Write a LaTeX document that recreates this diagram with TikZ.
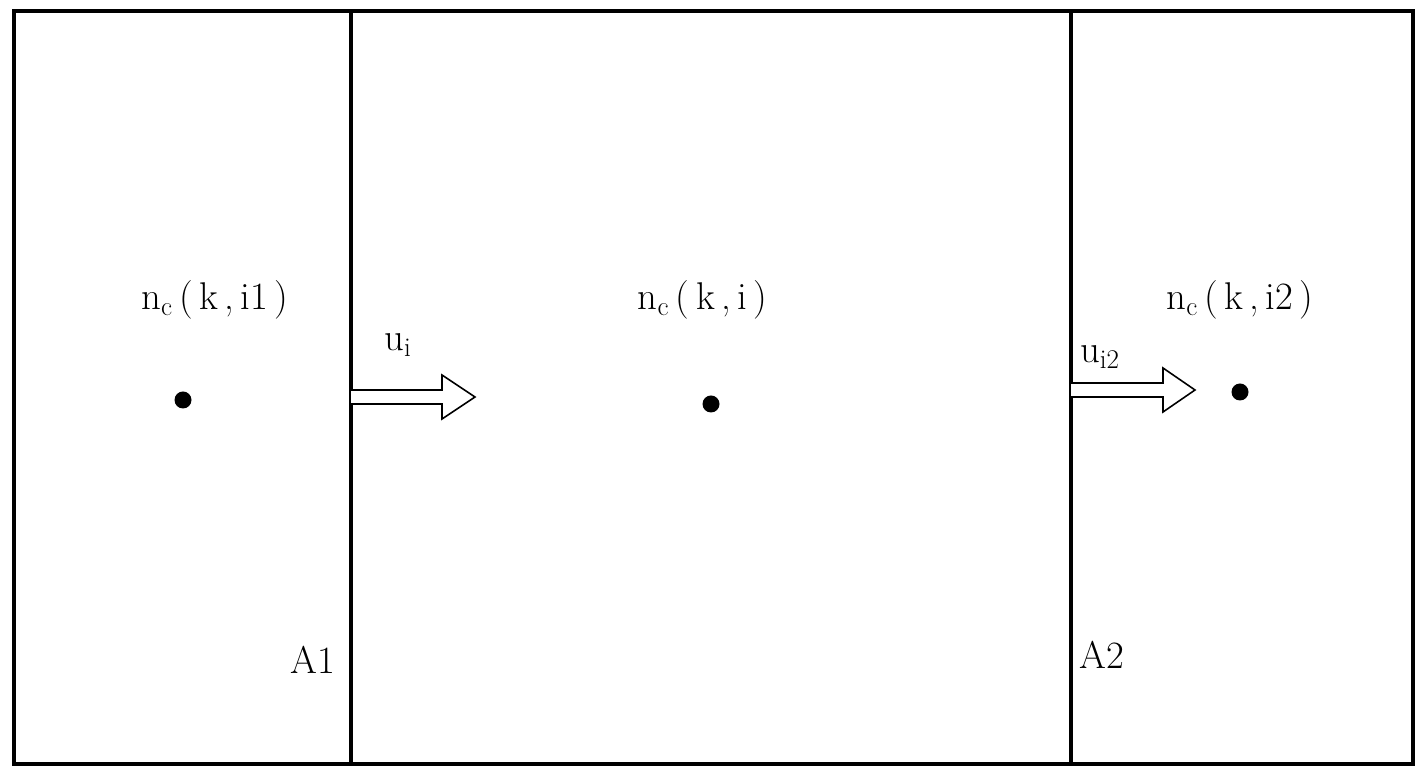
\documentclass[tikz,border=0pt]{standalone}
\usetikzlibrary{calc}

\begin{document}
\begin{tikzpicture}[line width=1.8pt,
    lbl/.style={font=\fontsize{22}{26}\selectfont},
    flux/.style={draw=black, fill=white, line width=0.9pt}]
        \useasboundingbox (0,0) rectangle (28.46,15.36);

        % Outer frame and the two interfaces
        \draw (0.28,0.08) rectangle (28.26,15.14);
        \coordinate (W1b) at (7.02,0.08);
        \coordinate (W1t) at (7.02,15.14);
        \coordinate (W2b) at (21.42,0.08);
        \coordinate (W2t) at (21.42,15.14);
        \draw (W1b) -- (W1t);
        \draw (W2b) -- (W2t);

        % Cell centres
        \fill (3.66,7.36) circle (0.17) coordinate (P1);
        \fill (14.22,7.28) circle (0.17) coordinate (P);
        \fill (24.80,7.52) circle (0.17) coordinate (P2);
        \node[lbl] (n1) at (4.30,9.36) {n\textsubscript{c}\,(\,k\,,\,i1\,)};
        \node[lbl] (n) at (14.05,9.36) {n\textsubscript{c}\,(\,k\,,\,i\,)};
        \node[lbl] (n2) at (24.80,9.36) {n\textsubscript{c}\,(\,k\,,\,i2\,)};

        % Velocities across the interfaces
        \coordinate (U1) at (7.02,7.42);
        \draw[flux] ($(U1)+(0,0.14)$) -- ($(U1)+(1.82,0.14)$) -- ($(U1)+(1.82,0.44)$)
            -- ($(U1)+(2.48,0)$) -- ($(U1)+(1.82,-0.44)$) -- ($(U1)+(1.82,-0.14)$)
            -- ($(U1)+(0,-0.14)$);
        \node[lbl] (u1) at (7.96,8.46) {u\textsubscript{i}};

        \coordinate (U2) at (21.42,7.56);
        \draw[flux] ($(U2)+(0,0.14)$) -- ($(U2)+(1.84,0.14)$) -- ($(U2)+(1.84,0.44)$)
            -- ($(U2)+(2.48,0)$) -- ($(U2)+(1.84,-0.44)$) -- ($(U2)+(1.84,-0.14)$)
            -- ($(U2)+(0,-0.14)$);
        \node[lbl] (u2) at (22.00,8.22) {u\textsubscript{i2}};

        % Interface areas
        \node[lbl, anchor=east] (A1) at (6.85,2.16) {A1};
        \node[lbl, anchor=west] (A2) at (21.45,2.26) {A2};
    \end{tikzpicture}
\end{document}
